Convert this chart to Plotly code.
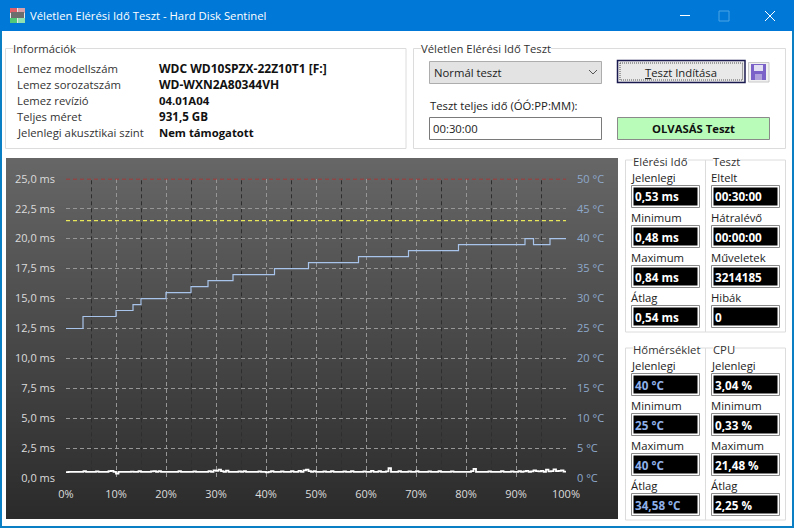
import plotly.graph_objects as go

W, H = 794, 528

# plot area in window pixels
PX0, PX1, PY0, PY1 = 66, 566, 178.7, 478.3

x_ticks = [0, 10, 20, 30, 40, 50, 60, 70, 80, 90, 100]
x_labels = ["0%", "10%", "20%", "30%", "40%", "50%", "60%", "70%", "80%", "90%", "100%"]
x_minor = [5, 15, 25, 35, 45, 55, 65, 75, 85, 95]
ms_ticks = [0, 2.5, 5, 7.5, 10, 12.5, 15, 17.5, 20, 22.5, 25]
ms_labels = ["0,0 ms", "2,5 ms", "5,0 ms", "7,5 ms", "10,0 ms", "12,5 ms", "15,0 ms", "17,5 ms", "20,0 ms", "22,5 ms", "25,0 ms"]
temp_ticks = [0, 5, 10, 15, 20, 25, 30, 35, 40, 45, 50]
temp_labels = ["0 °C", "5 °C", "10 °C", "15 °C", "20 °C", "25 °C", "30 °C", "35 °C", "40 °C", "45 °C", "50 °C"]

# temperature steps (value holds until next x)
temp_pct = [0, 3.4, 10, 13.4, 15, 20, 25, 28.4, 33.4, 41.7, 48.5, 58.5, 68.5, 78.5, 91.8, 93.5, 96.8, 100]
temp_val = [25, 27, 28, 29, 30, 31, 32, 33, 34, 35, 36, 37, 38, 39, 40, 39, 40, 40]

limit_pct = [0, 100]
crit_temp = [50, 50]
warn_temp = [43, 43]

# access time, one value every 0.5 %
access_pct = [i / 2 for i in range(201)]
access_ms = [
    0.52, 0.53, 0.53, 0.54, 0.53, 0.53, 0.53, 0.60, 0.53, 0.54, 0.53, 0.53, 0.58, 0.53, 0.53, 0.54, 0.53, 0.60, 0.62, 0.54,
    0.40, 0.53, 0.53, 0.54, 0.53, 0.53, 0.55, 0.53, 0.53, 0.60, 0.53, 0.54, 0.53, 0.53, 0.58, 0.60, 0.53, 0.60, 0.53, 0.53,
    0.53, 0.54, 0.53, 0.53, 0.53, 0.60, 0.54, 0.53, 0.53, 0.53, 0.53, 0.58, 0.53, 0.54, 0.53, 0.53, 0.53, 0.60, 0.53, 0.66,
    0.62, 0.72, 0.60, 0.53, 0.64, 0.53, 0.54, 0.53, 0.53, 0.58, 0.53, 0.60, 0.53, 0.53, 0.54, 0.53, 0.53, 0.58, 0.53, 0.54,
    0.50, 0.53, 0.60, 0.53, 0.53, 0.53, 0.58, 0.53, 0.54, 0.53, 0.60, 0.53, 0.53, 0.62, 0.53, 0.66, 0.72, 0.60, 0.53, 0.60,
    0.53, 0.54, 0.53, 0.58, 0.53, 0.53, 0.60, 0.53, 0.54, 0.53, 0.53, 0.58, 0.53, 0.53, 0.60, 0.53, 0.54, 0.53, 0.53, 0.58,
    0.53, 0.53, 0.62, 0.53, 0.54, 0.60, 0.53, 0.53, 0.58, 0.84, 0.53, 0.54, 0.53, 0.60, 0.53, 0.53, 0.53, 0.58, 0.53, 0.54,
    0.60, 0.53, 0.53, 0.53, 0.54, 0.58, 0.53, 0.53, 0.53, 0.60, 0.54, 0.53, 0.53, 0.53, 0.58, 0.53, 0.53, 0.54, 0.53, 0.53,
    0.53, 0.53, 0.60, 0.78, 0.53, 0.54, 0.53, 0.53, 0.53, 0.58, 0.53, 0.53, 0.54, 0.53, 0.60, 0.53, 0.53, 0.53, 0.58, 0.54,
    0.53, 0.60, 0.53, 0.58, 0.62, 0.54, 0.58, 0.66, 0.60, 0.58, 0.62, 0.54, 0.72, 0.58, 0.60, 0.74, 0.60, 0.62, 0.66, 0.56,
    0.53,
]

info_rows = ["Lemez modellszám", "Lemez sorozatszám", "Lemez revízió", "Teljes méret", "Jelenlegi akusztikai szint"]
info_vals = ["WDC WD10SPZX-22Z10T1 [F:]", "WD-WXN2A80344VH", "04.01A04", "931,5 GB", "Nem támogatott"]
info_sizes = [12, 12, 11.4, 11.6, 11.3]

stat_names_ido = ["Jelenlegi", "Minimum", "Maximum", "Átlag"]
stat_vals_ido = ["0,53 ms", "0,48 ms", "0,84 ms", "0,54 ms"]
stat_names_teszt = ["Eltelt", "Hátralévő", "Műveletek", "Hibák"]
stat_vals_teszt = ["00:30:00", "00:00:00", "3214185", "0"]
stat_names_hom = ["Jelenlegi", "Minimum", "Maximum", "Átlag"]
stat_vals_hom = ["40 °C", "25 °C", "40 °C", "34,58 °C"]
stat_names_cpu = ["Jelenlegi", "Minimum", "Maximum", "Átlag"]
stat_vals_cpu = ["3,04 %", "0,33 %", "21,48 %", "2,25 %"]

FONT = "Open Sans"
BASE = 11.3
shapes = []
notes = []


def px(x):
    return x / W


def py(y):
    return 1 - y / H


def rect(x0, y0, x1, y1, fill=None, line=None, lw=1):
    shapes.append(dict(
        type="rect", xref="paper", yref="paper", layer="below",
        x0=px(x0), x1=px(x1), y0=py(y0), y1=py(y1),
        fillcolor=fill if fill else "rgba(0,0,0,0)",
        line=dict(color=line if line else "rgba(0,0,0,0)", width=lw if line else 0),
    ))


def seg(x0, y0, x1, y1, color, lw=1, dash=None):
    shapes.append(dict(
        type="line", xref="paper", yref="paper", layer="below",
        x0=px(x0), x1=px(x1), y0=py(y0), y1=py(y1),
        line=dict(color=color, width=lw, dash=dash),
    ))


def text(x, y, s, size=BASE, color="#1a1a1a", anchor="left", bold=False, bg=None):
    notes.append(dict(
        xref="paper", yref="paper", x=px(x), y=py(y), text=f"<b>{s}</b>" if bold else s,
        showarrow=False, xanchor=anchor, yanchor="middle", borderpad=0, borderwidth=0,
        font=dict(family=FONT, size=size, color=color), bgcolor=bg,
    ))


# window + title bar
rect(0, 0, W, H, fill="#0a7fc4")
rect(2, 31, W - 2, H - 2, fill="#ffffff")
rect(0, 0, W, 31, fill="#0078d7")
rect(10, 8, 25, 23, fill="#e8e8e8")
rect(10, 8, 17, 13, fill="#e0606a")
rect(18, 8, 25, 13, fill="#d8a0a8")
rect(10, 18, 17, 23, fill="#50c878")
rect(18, 18, 25, 23, fill="#90e0b0")
rect(11, 12, 24, 18, fill="#6e6e6e")
text(30, 16, "Véletlen Elérési Idő Teszt - Hard Disk Sentinel", color="#ffffff")
seg(680, 15.5, 690, 15.5, "#ffffff")
rect(719, 11, 729, 21, line="#4aa3e4")
seg(765, 11, 775, 21, "#ffffff")
seg(765, 21, 775, 11, "#ffffff")

# Információk box
rect(5.5, 48.5, 406, 148.5, line="#dcdcdc")
text(13, 49, "Információk", bg="#ffffff", color="#333333")
for i, (name, val) in enumerate(zip(info_rows, info_vals)):
    text(17, 68.5 + i * 16, name, color="#333333")
    text(159, 68.5 + i * 16, val, size=info_sizes[i], bold=True, color="#111111")

# test box
rect(413.5, 48.5, 785.5, 148.5, line="#dcdcdc")
text(421, 49, "Véletlen Elérési Idő Teszt", bg="#ffffff", color="#333333")
rect(429.5, 61.5, 601.5, 83.5, fill="#e3e3e3", line="#adadad")
text(434, 73, "Normál teszt", color="#222222")
seg(589, 70, 593, 74, "#555555")
seg(593, 74, 597, 70, "#555555")
rect(617.5, 60.5, 745, 82.5, fill="#e9e9e9", line="#1a1a50", lw=1.5)
rect(620, 63, 742.5, 80, line="#555555", lw=1)
shapes[-1]["line"]["dash"] = "1px,1px"
text(681, 72, "<u>T</u>eszt Indítása", anchor="center", color="#222222")
rect(748.5, 62.5, 769, 82, fill="#f0f0f0", line="#c8c8c8")
rect(751, 64, 766, 80, fill="#7a62c8")
rect(754, 65, 763, 71, fill="#e4e0f4")
rect(755, 74, 762, 80, fill="#b0a0dc")
text(430, 105, "Teszt teljes idő (ÓÓ:PP:MM):", color="#222222")
rect(429.5, 117.5, 601.5, 139.5, fill="#ffffff", line="#7a7a7a")
text(433, 128.5, "00:30:00", color="#222222")
rect(617.5, 117.5, 769.5, 139.5, fill="#b9fbb9", line="#8a8a8a")
text(693.5, 128.5, "OLVASÁS Teszt", anchor="center", bold=True, color="#111111")

# dark chart panel, vertical gradient from 102 down to 43, whole pixel bands
BANDS = 60
for i in range(BANDS):
    g = round(102 - (102 - 43) * i / (BANDS - 1))
    y0 = 158 + 6 * i
    rect(6, y0, 618, y0 + 6 + 1 if i < BANDS - 1 else 519, fill=f"rgb({g},{g},{g})")


# stat panels
def stat_group(top, title1, title2, names1, vals1, names2, vals2, color1):
    rect(625.5, top, 785.5, top + 172, line="#dcdcdc")
    seg(705.5, top, 705.5, top + 172, "#dcdcdc")
    text(633, top + 1, title1, bg="#ffffff", color="#333333")
    text(713, top + 1, title2, bg="#ffffff", color="#333333")
    for i in range(4):
        y = top + 17 + i * 40
        text(631, y, names1[i], color="#222222")
        text(711, y, names2[i], color="#222222")
        for x0, val, col in ((631.5, vals1[i], color1), (711.5, vals2[i], "#ffffff")):
            rect(x0, y + 8.5, x0 + 68, y + 30.5, fill="#ffffff", line="#8a8a8a", lw=1)
            rect(x0 + 2, y + 10.5, x0 + 66, y + 28.5, fill="#000000")
            text(x0 + 3, y + 19.5, val, size=11.7, bold=True, color=col)


stat_group(160, "Elérési Idő", "Teszt", stat_names_ido, stat_vals_ido, stat_names_teszt, stat_vals_teszt, "#ffffff")
stat_group(348, "Hőmérséklet", "CPU", stat_names_hom, stat_vals_hom, stat_names_cpu, stat_vals_cpu, "#8fb0e8")

# dark 5 % lines between the major grid, nudged half a pixel so they stay sharp
for v in x_minor:
    shapes.append(dict(
        type="line", xref="x", yref="paper", layer="below", x0=v + 0.1, x1=v + 0.1, y0=py(PY1), y1=py(PY0),
        line=dict(color="#2e2e2e", width=1, dash="4px,3px"),
    ))

fig = go.Figure()
fig.add_trace(go.Scatter(x=access_pct, y=access_ms, mode="lines", line=dict(color="#ffffff", width=1.8, shape="hv"), yaxis="y"))
fig.add_trace(go.Scatter(x=limit_pct, y=crit_temp, mode="lines", cliponaxis=False, line=dict(color="#b82c2c", width=1.8, dash="4px,3px"), yaxis="y2"))
fig.add_trace(go.Scatter(x=limit_pct, y=warn_temp, mode="lines", line=dict(color="#e8e85a", width=1.2, dash="4px,3px"), yaxis="y2"))
fig.add_trace(go.Scatter(x=temp_pct, y=temp_val, mode="lines", line=dict(color="#a9c4ea", width=1.2, shape="hv"), yaxis="y2"))

fig.update_layout(
    width=W, height=H,
    margin=dict(l=0, r=0, t=0, b=0, autoexpand=False),
    showlegend=False,
    paper_bgcolor="#ffffff",
    plot_bgcolor="rgba(0,0,0,0)",
    font=dict(family=FONT, size=BASE),
    shapes=shapes,
    annotations=notes,
    xaxis=dict(
        domain=[px(PX0), px(PX1)], range=[0, 100], tickmode="array", automargin=False,
        tickvals=x_ticks, ticktext=x_labels, tickfont=dict(color="#dcdcdc", size=11),
        showgrid=True, gridcolor="#969696", griddash="4px,3px", gridwidth=1,
        zeroline=False, showline=False, ticks="", ticklabelstandoff=8,
    ),
    yaxis=dict(
        domain=[py(PY1), py(PY0)], range=[0, 25], tickmode="array", automargin=False,
        tickvals=ms_ticks, ticktext=ms_labels, tickfont=dict(color="#dcdcdc", size=11),
        showgrid=True, gridcolor="#969696", griddash="4px,3px", gridwidth=1,
        zeroline=False, showline=False, ticks="", ticklabelstandoff=10,
    ),
    yaxis2=dict(
        domain=[py(PY1), py(PY0)], range=[0, 50], overlaying="y", side="right", anchor="x", automargin=False,
        tickmode="array", tickvals=temp_ticks, ticktext=temp_labels,
        tickfont=dict(color="#8ea9cc", size=11),
        showgrid=False, zeroline=False, showline=False, ticks="", ticklabelstandoff=10,
    ),
)

fig.write_html("out.html", config=dict(displayModeBar=False), post_script="document.body.style.margin='0';")
